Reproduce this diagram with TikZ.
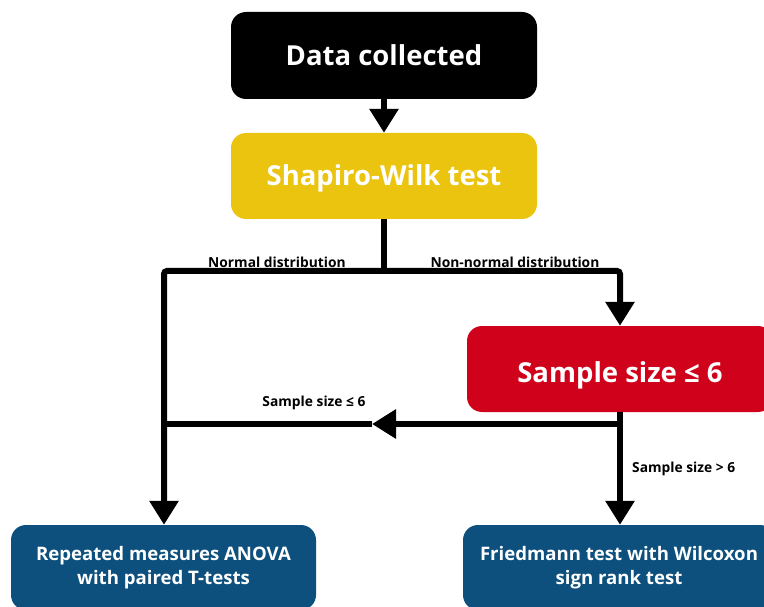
\documentclass[tikz,border=0pt]{standalone}
\usepackage{fontspec}
\setmainfont{Open Sans}
\usetikzlibrary{arrows.meta}
\definecolor{cblack}{RGB}{0,0,0}
\definecolor{cyellow}{RGB}{234,196,15}
\definecolor{cred}{RGB}{208,2,27}
\definecolor{cblue}{RGB}{13,80,126}
\begin{document}
\begin{tikzpicture}[x=1pt,y=-1pt,
  box/.style={rounded corners=15pt, minimum width=306pt, minimum height=86pt,
    text=white, font=\bfseries\fontsize{27.5}{32}\selectfont, align=center, inner sep=0pt,
    text height=20pt, text depth=0pt},
  bbox/.style={rounded corners=15pt, text=white, align=center, inner sep=0pt,
    font=\bfseries\fontsize{18.6}{24.5}\selectfont},
  conn/.style={line width=6pt, draw=black},
  arr/.style={conn, -{Triangle[length=24pt,width=28pt]}},
  lbl/.style={font=\bfseries\fontsize{13.8}{16}\selectfont, inner sep=0pt}
]
\useasboundingbox (0,0) rectangle (764,607);
\node[box, fill=cblack, minimum height=87pt] (data) at (384,55.5) {Data collected};
\node[box, fill=cyellow] (shap) at (384,176) {Shapiro-Wilk test};
\node[box, fill=cred] (samp) at (620,369) {\raisebox{-3pt}{Sample size ≤ 6}};
\node[bbox, fill=cblue, minimum width=305pt, minimum height=85pt] (anova) at (163.5,567.5) {\raisebox{-2pt}{\parbox{290pt}{\centering Repeated measures ANOVA\\with paired T-tests}}};
\node[bbox, fill=cblue, minimum width=312pt, minimum height=85pt] (fried) at (619,567.5) {\raisebox{-2pt}{\parbox{300pt}{\centering Friedmann test with Wilcoxon\\sign rank test}}};

\coordinate (j1) at (384,271);
\coordinate (j2) at (620,424);
\coordinate (m) at (372,424);
\coordinate (j3) at (164,424);

\draw[arr] (data.south) -- (shap.north);
\draw[conn] (shap.south) -- (j1);
\draw[arr, rounded corners=3pt] (j1) -| (anova.north-|j3);
\draw[arr, rounded corners=3pt] (j1) -| (samp.north);
\draw[arr] (samp.south) -- (fried.north-|samp.south);
\draw[arr] (j2) -- (m);
\draw[conn] (m) -- (j3);

\node[lbl] (l1) at (277,262) {Normal distribution};
\node[lbl] (l2) at (515,262) {Non-normal distribution};
\node[lbl] (l3) at (314,403) {Sample size ≤ 6};
\node[lbl, anchor=west] (l4) at (632,469) {Sample size > 6};
\end{tikzpicture}
\end{document}
